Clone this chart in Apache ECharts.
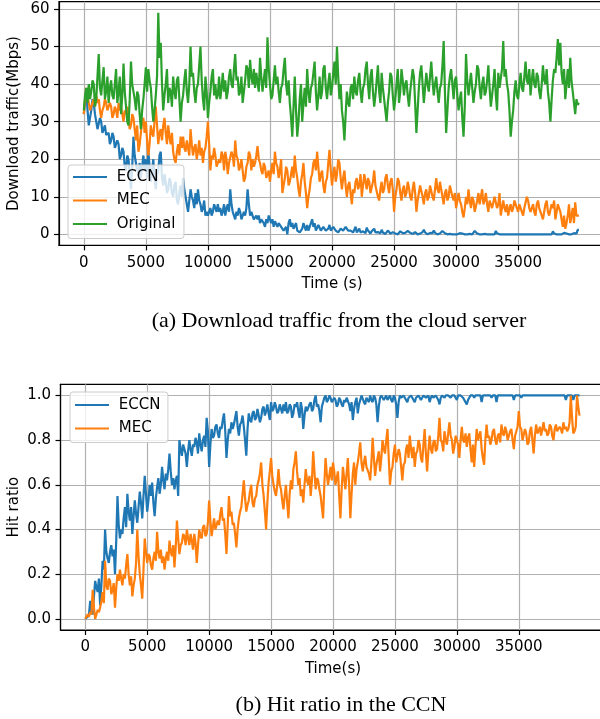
<!DOCTYPE html>
<html>
<head>
<meta charset="utf-8">
<script src="https://cdn.jsdelivr.net/npm/echarts@6/dist/echarts.min.js"></script>
<style>
html,body{margin:0;padding:0;background:#fff;}
#chart{width:600px;height:719px;}
</style>
</head>
<body>
<div id="chart"></div>
<script>
// ---------- data ----------
const STEP = 100; // seconds between samples
const seriesNames = ['ECCN', 'MEC', 'Original'];
const xTicks = [0, 5000, 10000, 15000, 20000, 25000, 30000, 35000];
const yTicksTraffic = [0, 10, 20, 30, 40, 50, 60];
const yTicksHit = [0, 0.2, 0.4, 0.6, 0.8, 1.0];

const eccnTraffic = [
 32,35,38.5,33,29,31,33,36,35,32,30,28,28,31,30,27,27,29,26.5,27,
 27,24,25,27,26,23,23,25,24,20,21,23,22,18,17,21,20,16,12,18,
 26,21,19,17,16,19,15,18,21,17,20,15,22,18,14,17,20,15,12,16,
 17,21,22,15,13,16,14,11,12,15,14,11,10,13,14,9,8,11,13,10,
 15,12,10,8,6,9,12,10,9,7,11,8,12,9,8,6,7,9,5,6,
 5,6,7,5,6,8,7,6,8,6,7,5,6,8,5,7,8,6,12,8,
 6,5,4,6,5,7,6,4,4,6,5,7,12,8,5,6,6,4,4,5,
 4,5,3,4,4,3,2,4,3,5,5,3,4,2,3.5,4,2,3,3,2,
 2,1,0.5,2,0,3,4,2,3,1.5,2,3,1,0.5,0.5,1,1.5,3,2,1,
 2.5,1,1.5,3,4,2,3,1,1.5,2.5,2.5,1,1,2,2,1,0.5,1.5,2.5,1,
 1,2,2,1,1.5,0.5,0.5,1.5,2,1,1,2,2.5,1,0.5,1,1.5,0.5,1,2,
 0.5,1,1.5,0.5,0.3,0.8,1,0.3,1.8,1,0.5,0.2,0.8,1.2,1.5,0.5,0.2,0.6,1,0.3,
 1.2,0.5,0.3,0.1,0.5,1,1,0.2,0.2,0.6,0.8,0.2,0.1,0,0.3,0.8,1,0.3,0.2,0.4,
 0.5,0.9,1.2,0.4,0.2,0.1,0.3,0.6,0.1,0,0.5,0.2,0.2,0.6,1.2,0.5,0.3,0,0.1,0.4,
 0.8,0.3,1,0.4,0.2,0,0.1,0.2,0.5,0.9,1,0.3,0.2,0,0,0.1,0.1,0,0.3,0,
 0.1,0,0,0.3,0.8,0.2,0.2,0,0,0,0,0.1,0.1,0,0.5,0.9,1,0.2,0.1,0,
 0,0,0,0.1,0.2,0,0,0,0,0,0.1,0,0.9,0.3,0,0,0,0,0,0,
 0,0,0.1,0,0,0,0,0,0,0,0,0,0.2,0,0,0,0,0,0,0,
 0,0,0,0,0,0,0,0,0,0,0,0,0,0,0,0,0,0,0.8,0.2,
 0,0,0,0,0,0,0.2,0.4,0.9,0.2,0,0,0,0,0.1,0.3,0.8,0.2,1.2,1.2
];
const mecTraffic = [
 32,36,39,37,35,33,33,35,36,34,37,35,36,33,31,33,34,36,35,33,
 33,35,34,31,32,34,33,31,35,33,34,32,30,33,32,34,31,28,29,32,
 31,28,25,29,22,24,27,30,31,27,30,25,21,24,29,27,26,30,34,29,
 24,27,28,25,29,31,27,24,29,26,24,27,22,20,19,22,24,21,26,23,
 26,23,22,25,25,21,28,24,21,23,24,20,22,25,21,23,19,22,23,26,
 30,24,17,21,20,23,21,18,18,20,19,22,21,17,22,20,16,19,19,22,
 21,18,25,21,20,17,18,20,17,14,15,18,19,22,21,17,20,18,19,21,
 23.5,20,19,17,16,19,18,15,15,17,14,17,19,16,22,19,18,15,17,20,
 11,13,15,18,17,13,14,16,18,15,21,17,15,12,10,14,16,19,14,11,
 7,10,12,15,16,19,20,17,22,18,14,16,17,13,11,14,15,19,22.5,17,
 13,16,18,14,16,20,19,15,12,15,17,13,10,13,14,11,8,12,11,14,
 15,12,13,16,10,13,16,14,12,15,14,11,11,14,17,13,13,10,9,12,
 14,11,12,15,16,13,11,14,15,12,6,10,12,15,14,11,9,12,13,10,
 11,14,12.5,10,9,12,14,11,6,9,11,13,13,10,8,11,12,9,10,13,
 13,10,9,12,15,12,11,14,14,10,8,11,12,9,10,13,13,10,9,11,
 7,9,11,9,8,6,4.5,7,10,8,12,9,7,10,9,6,6,9,11,8,
 10,12,8,9,11,8,6,9,9,7,7,10,10,7,8,11,5,7,9,7,
 6,8,5,7,8,6,7,9,9,7,6,8,8,6,5,7,7,10,9,7,
 6,7,8,6,5,8,9,7,7,5,4,6,8,9,6,5,5,8,7,9,
 4,6,8,7,6,4,2,5,1.5,3,5,8,3,5,7,3,8.5,5,4.5,5
];
const originalTraffic = [
 33,37,39,35,40,36,38,41,40,34,36,42,48,39,37,41,44.5,36,38,42,
 35,39,41,37,36,40,44,35,38,42,32,37,45.5,38,34,30,29,36,46,40,
 40,36,33,38,37,32,28,33,36,40,44.5,38,44,41,39,34,30,33,37,42,
 59,47,51,40,33,37,40,44,35,39,38,34,42,38,36,41,42,36,30,35,
 37,41,44,38,35,40,50,42,43,38,35,39,40,45,50,41,36,33,42,38,
 31,35,38,42,44,37,40,36,37,42,36,39,43,38,41,36,38,42,44,40,
 39,44,48,41,42,37,38,42,35,38,41,45,44,39,46.5,42,40,44,39,43,
 43,38,47,42,38,41,44,39,52.5,44,40,36,37,41,45,40,42,38,35,39,
 40,44,47,40,37,41,35,31,26,34,42,33,26,30,36,40,30,35,39,34,
 44,38,35,39,40,43,46,38,33,37,42,36,38,44,45,39,36,40,43,37,
 39,43,46,40,50,42,36,40,33,30,25,32,38,35,34,39,40,36,42,38,
 37,41,43,38,35,39,40,44,46,40,36,42,44,38,34,37,41,45,38,35,
 43,39,36,33,30,35,38,43,42,37,33,36,40,44,35,38,44,41,37,40,
 41,37,34,38,38,44,42,35,27,33,39,43,45,40,35,39,43,40,38,42,
 46,41,37,40,42,38,35,39,40,45,51.5,38,27,33,39,42,44,40,36,41,
 42,37,33,36,38,31,26,34,48,41,37,40,43,39,35,38,40,45,44,39,
 36,40,42,37,38,41,45,39,34,37,40,44,37,33,43,39,39,44,51.5,42,
 44,40,38,33,26,30,33,38,41,37,36,40,43,39,38,42,46,41,40,44,
 37,41,44,40,39,43,42,38,36,40,45,41,40,44,38,35,30,36,41,44,
 43,47,52,45,51,43,40,44,36,40,44,39,47,41,38,35,32,36,34.5,35
];
const eccnHit = [
 0,0,0.01,0.02,0.08,0.03,0.02,0.1,0.17,0.14,0.12,0.18,0.06,0.15,0.26,0.22,0.4,0.3,0.27,0.25,
 0.3,0.33,0.28,0.31,0.2,0.35,0.55,0.42,0.36,0.4,0.38,0.45,0.5,0.41,0.56,0.48,0.44,0.5,0.38,0.46,
 0.53,0.47,0.43,0.5,0.57,0.52,0.45,0.55,0.64,0.56,0.48,0.53,0.6,0.55,0.61,0.52,0.46,0.54,0.59,0.63,
 0.56,0.6,0.68,0.62,0.58,0.65,0.62,0.67,0.74,0.66,0.6,0.63,0.58,0.62,0.64,0.55,0.8,0.76,0.73,0.78,
 0.78,0.74,0.68,0.75,0.8,0.76,0.73,0.78,0.77,0.81,0.79,0.74,0.83,0.78,0.75,0.8,0.82,0.77,0.9,0.84,
 0.68,0.78,0.85,0.81,0.82,0.86,0.87,0.83,0.81,0.86,0.85,0.89,0.92,0.84,0.72,0.8,0.85,0.83,0.88,0.85,
 0.87,0.9,0.93,0.86,0.82,0.87,0.88,0.91,0.86,0.8,0.73,0.85,0.92,0.89,0.88,0.92,0.93,0.89,0.9,0.94,
 0.91,0.88,0.9,0.94,0.95,0.91,0.93,0.96,0.92,0.89,0.97,0.93,0.94,0.97,0.95,0.92,0.93,0.96,0.94,0.92,
 0.96,0.93,0.97,0.92,0.93,0.96,0.95,0.9,0.92,0.96,0.95,0.97,0.93,0.9,0.97,0.94,0.85,0.91,0.95,0.93,
 0.93,0.96,0.97,0.93,0.94,0.98,1.0,0.95,0.96,0.93,0.88,0.95,0.97,0.99,1.0,0.97,0.98,1.0,0.99,0.97,
 0.97,0.99,0.98,0.95,0.96,0.99,0.98,0.96,0.95,0.98,0.97,0.99,0.99,0.96,0.93,0.97,0.89,0.94,0.97,0.99,
 0.92,0.96,0.98,1.0,1.0,0.97,0.96,0.99,0.99,0.97,1.0,0.98,0.97,1.0,0.99,0.96,0.88,0.95,0.99,1.0,
 1.0,0.98,0.99,1.0,0.98,0.99,1.0,0.98,0.97,1.0,0.99,0.96,0.9,0.97,1.0,0.99,0.99,1.0,1.0,0.98,
 0.97,0.99,0.99,1.0,1.0,0.98,0.97,0.99,0.99,1.0,1.0,0.98,0.98,1.0,1.0,0.99,0.99,1.0,0.97,0.99,
 1.0,0.99,0.99,1.0,1.0,0.98,0.96,0.99,1.0,1.0,0.99,1.0,1.0,1.0,1.0,0.99,1.0,1.0,1.0,1.0,
 0.98,1.0,1.0,1.0,1.0,0.99,0.98,0.97,0.96,0.98,0.98,1.0,1.0,1.0,0.99,1.0,1.0,1.0,1.0,1.0,
 0.97,1.0,1.0,1.0,1.0,1.0,1.0,1.0,0.99,1.0,1.0,1.0,0.97,1.0,1.0,1.0,1.0,1.0,1.0,1.0,
 1.0,1.0,1.0,1.0,1.0,1.0,0.98,1.0,1.0,1.0,1.0,1.0,0.99,1.0,1.0,1.0,1.0,1.0,1.0,1.0,
 1.0,1.0,1.0,1.0,1.0,1.0,1.0,1.0,1.0,1.0,1.0,1.0,1.0,1.0,1.0,1.0,1.0,1.0,1.0,1.0,
 1.0,1.0,1.0,1.0,1.0,1.0,1.0,1.0,0.98,1.0,1.0,1.0,1.0,1.0,0.98,1.0,1.0,1.0,1.0,1.0
];
const mecHit = [
 0,0.01,0.02,0.01,0.03,0.02,0.13,0.05,0.0,0.02,0.04,0.03,0.05,0.08,0.12,0.07,0.26,0.15,0.13,0.18,
 0.17,0.11,0.13,0.16,0.05,0.14,0.2,0.17,0.22,0.18,0.15,0.2,0.18,0.24,0.29,0.2,0.15,0.19,0.1,0.15,
 0.18,0.25,0.4,0.28,0.2,0.15,0.09,0.22,0.36,0.3,0.25,0.29,0.28,0.24,0.22,0.27,0.3,0.26,0.39,0.3,
 0.27,0.31,0.25,0.28,0.22,0.27,0.3,0.26,0.35,0.3,0.28,0.33,0.23,0.32,0.44,0.36,0.29,0.33,0.34,0.38,
 0.37,0.33,0.4,0.36,0.33,0.38,0.35,0.31,0.38,0.34,0.25,0.33,0.4,0.37,0.36,0.41,0.42,0.37,0.38,0.43,
 0.53,0.44,0.37,0.41,0.45,0.4,0.4,0.44,0.42,0.47,0.5,0.44,0.45,0.38,0.29,0.42,0.55,0.46,0.48,0.42,
 0.43,0.38,0.32,0.4,0.45,0.48,0.5,0.56,0.62,0.54,0.48,0.51,0.53,0.57,0.6,0.52,0.5,0.54,0.55,0.6,
 0.62,0.65,0.7,0.6,0.55,0.48,0.4,0.52,0.61,0.66,0.72,0.64,0.6,0.57,0.55,0.6,0.67,0.6,0.58,0.53,
 0.49,0.55,0.6,0.52,0.45,0.56,0.62,0.58,0.67,0.7,0.75,0.66,0.6,0.63,0.55,0.58,0.52,0.6,0.67,0.62,
 0.6,0.64,0.55,0.62,0.75,0.66,0.58,0.63,0.62,0.58,0.55,0.5,0.45,0.6,0.72,0.65,0.6,0.64,0.68,0.62,
 0.7,0.66,0.6,0.63,0.66,0.55,0.45,0.58,0.68,0.63,0.58,0.65,0.72,0.6,0.45,0.56,0.65,0.7,0.6,0.67,
 0.7,0.74,0.79,0.7,0.66,0.7,0.73,0.68,0.68,0.65,0.62,0.7,0.81,0.72,0.64,0.69,0.72,0.75,0.66,0.72,
 0.8,0.76,0.74,0.8,0.85,0.72,0.6,0.66,0.68,0.74,0.78,0.7,0.7,0.76,0.74,0.68,0.62,0.69,0.7,0.76,
 0.78,0.72,0.82,0.76,0.72,0.77,0.68,0.74,0.75,0.8,0.78,0.72,0.7,0.78,0.85,0.74,0.66,0.75,0.82,0.76,
 0.74,0.79,0.8,0.75,0.76,0.82,0.9,0.8,0.79,0.75,0.84,0.8,0.78,0.83,0.88,0.82,0.8,0.74,0.77,0.82,
 0.82,0.78,0.72,0.8,0.86,0.8,0.79,0.83,0.77,0.81,0.83,0.76,0.7,0.78,0.68,0.77,0.85,0.8,0.8,0.84,
 0.76,0.72,0.69,0.8,0.87,0.81,0.82,0.78,0.8,0.84,0.85,0.8,0.78,0.82,0.83,0.79,0.87,0.83,0.82,0.86,
 0.84,0.8,0.8,0.84,0.85,0.8,0.76,0.82,0.82,0.86,0.93,0.86,0.85,0.8,0.8,0.85,0.83,0.78,0.79,0.84,
 0.86,0.8,0.74,0.82,0.87,0.83,0.84,0.86,0.82,0.85,0.88,0.84,0.85,0.82,0.83,0.87,0.86,0.82,0.8,0.85,
 0.87,0.84,0.84,0.86,0.85,0.83,0.88,0.85,0.86,0.84,0.85,0.88,1.0,0.9,0.83,0.84,0.86,1.0,0.95,0.91
];

// ---------- chart ----------
const COLORS = ['#1f77b4', '#ff7f0e', '#2ca02c'];
const FONT = 'DejaVu Sans';
const FS = 15;
const pairs = arr => arr.map((v, i) => [i * STEP, v]);

function xAxisCfg(gridIndex, name) {
  return {
    type: 'value', gridIndex, min: -2000, max: 42000,
    name, nameLocation: 'middle', nameGap: 31.5, nameMoveOverlap: false,
    nameTextStyle: { fontFamily: FONT, fontSize: FS, color: '#000' },
    axisLine: { show: true, onZero: false, lineStyle: { color: '#000', width: 1.2 } },
    axisTick: { show: true, inside: false, length: 5, customValues: xTicks, lineStyle: { color: '#000', width: 1.2 } },
    axisLabel: { customValues: xTicks, margin: 10, fontFamily: FONT, fontSize: FS, color: '#000', formatter: v => String(v) },
    splitLine: { show: true, lineStyle: { color: '#b0b0b0', width: 1.2 } }
  };
}
function yAxisCfg(gridIndex, name, min, max, ticks, fmt, gap) {
  return {
    type: 'value', gridIndex, min, max,
    name, nameLocation: 'middle', nameGap: gap, nameMoveOverlap: false,
    nameTextStyle: { fontFamily: FONT, fontSize: FS, color: '#000' },
    axisLine: { show: true, onZero: false, lineStyle: { color: '#000', width: 1.2 } },
    axisTick: { show: true, inside: false, length: 5, customValues: ticks, lineStyle: { color: '#000', width: 1.2 } },
    axisLabel: { customValues: ticks, margin: 9.5, fontFamily: FONT, fontSize: FS, color: '#000', formatter: fmt },
    splitLine: { show: true, lineStyle: { color: '#b0b0b0', width: 1.2 } }
  };
}
function lineSeries(name, data, color, xi, yi) {
  return {
    type: 'line', name, data: pairs(data), xAxisIndex: xi, yAxisIndex: yi,
    showSymbol: false, symbol: 'none', color,
    lineStyle: { color, width: 2.2 }, animation: false
  };
}
const legendBase = {
  orient: 'vertical', icon: 'rect', itemWidth: 34, itemHeight: 2.2, itemGap: 8.5,
  formatter: n => ' ' + n.trim(),
  textStyle: { fontFamily: FONT, fontSize: FS, color: '#000' },
  backgroundColor: 'rgba(255,255,255,0.8)', borderColor: '#cccccc', borderWidth: 1, borderRadius: 3,
  selectedMode: false
};

const chart = echarts.init(document.getElementById('chart'), null, { renderer: 'canvas' });
chart.setOption({
  animation: false,
  backgroundColor: '#fff',
  title: [
    { text: '(a) Download traffic from the cloud server', left: 339, top: 310, textAlign: 'center', padding: 0,
      textStyle: { fontFamily: 'Liberation Serif', fontSize: 22, fontWeight: 'normal', color: '#000' } },
    { text: '(b) Hit ratio in the CCN', left: 341, top: 694, textAlign: 'center', padding: 0,
      textStyle: { fontFamily: 'Liberation Serif', fontSize: 22, fontWeight: 'normal', color: '#000' } }
  ],
  grid: [
    { left: 59, top: 1.7, width: 546, height: 243.7, show: true, borderColor: '#000', borderWidth: 1.2,
      containLabel: false, outerBoundsMode: 'none' },
    { left: 60.5, top: 384.3, width: 545, height: 245.7, show: true, borderColor: '#000', borderWidth: 1.2,
      containLabel: false, outerBoundsMode: 'none' }
  ],
  xAxis: [ xAxisCfg(0, 'Time (s)'), xAxisCfg(1, 'Time(s)') ],
  yAxis: [
    yAxisCfg(0, 'Download traffic(Mbps)', -2.95, 61.95, yTicksTraffic, v => String(v), 37),
    yAxisCfg(1, 'Hit ratio', -0.05, 1.05, yTicksHit, v => v.toFixed(1), 38.5)
  ],
  legend: [
    Object.assign({}, legendBase, { left: 68, top: 165, padding: [4.5, 8.5, 7, 5], data: seriesNames }),
    Object.assign({}, legendBase, { left: 70, top: 392, padding: [5.5, 7.5, 6.5, 5], data: ['ECCN ', 'MEC '] })
  ],
  series: [
    lineSeries('ECCN', eccnTraffic, COLORS[0], 0, 0),
    lineSeries('MEC', mecTraffic, COLORS[1], 0, 0),
    lineSeries('Original', originalTraffic, COLORS[2], 0, 0),
    lineSeries('ECCN ', eccnHit, COLORS[0], 1, 1),
    lineSeries('MEC ', mecHit, COLORS[1], 1, 1)
  ]
});
</script>
</body>
</html>
